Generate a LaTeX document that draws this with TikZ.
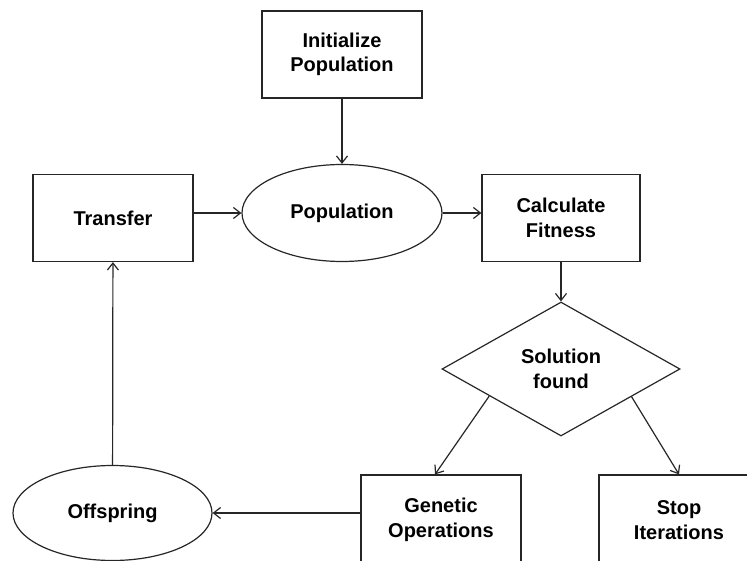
\documentclass[tikz,border=0pt]{standalone}
\usepackage{fontspec}
\setmainfont{Liberation Sans}
\usetikzlibrary{calc,shapes.geometric,arrows.meta}
\tikzset{
	blk/.style={draw=black!85, line width=1.2pt, rectangle, minimum width=160pt, minimum height=87pt, align=center, font=\fontsize{20}{24.5}\selectfont\bfseries},
	oval/.style={draw=black!85, line width=1.2pt, ellipse, minimum width=200pt, minimum height=97pt, inner sep=0pt, font=\fontsize{20}{24.5}\selectfont\bfseries},
	decision/.style={draw=black!85, line width=1.2pt, diamond, aspect=1.78, minimum width=238pt, minimum height=134pt, inner sep=0pt, align=center, font=\fontsize{20}{24.5}\selectfont\bfseries},
	flow/.style={draw=black!85, line width=1.2pt, -{Straight Barb[length=7pt,width=11pt]}},
}

\begin{document}
\begin{tikzpicture}[x=1pt,y=-1pt]
			%%%%% START %%%%%
			\useasboundingbox (0,0) rectangle (747,561);
			\clip (0,0) rectangle (747,561);
			
			\node[blk] (init) at (342, 54.5) {Initialize\\Population};
			\node[oval] (pop) at (342, 213) {Population};
			\node[blk] (transfer) at (113, 218) {Transfer};
			\node[blk, minimum width=158pt] (calc) at (561, 218) {Calculate\\Fitness};
			
			\node[decision] (sol) at (561, 369) {Solution\\found};
			
			\node[blk, minimum height=90pt] (gen) at (441, 520) {Genetic\\Operations};
			\node[blk, minimum height=90pt] (stop) at (679, 520) {Stop\\Iterations};
			\node[oval, minimum width=199pt, minimum height=95pt] (off) at (112.5, 513) {Offspring};
			
			\draw[flow] (init) -- (pop);
			\draw[flow] (transfer.east |- pop) -- (pop.west);
			\draw[flow] (pop.east) -- (pop.east -| calc.west);
			\draw[flow] (calc) -- (sol);
			
			\draw[flow] ($(sol.west)!0.4!(sol.south)$) -- ($(gen.north)+(-6,0)$);
			\draw[flow] ($(sol.east)!0.41!(sol.south)$) -- (stop.north);
			
			\draw[flow] (gen.west |- off) -- (off.east);
			\draw[flow] (off) -- (transfer);
			
			%%%%% END %%%%%
\end{tikzpicture}
\end{document}
